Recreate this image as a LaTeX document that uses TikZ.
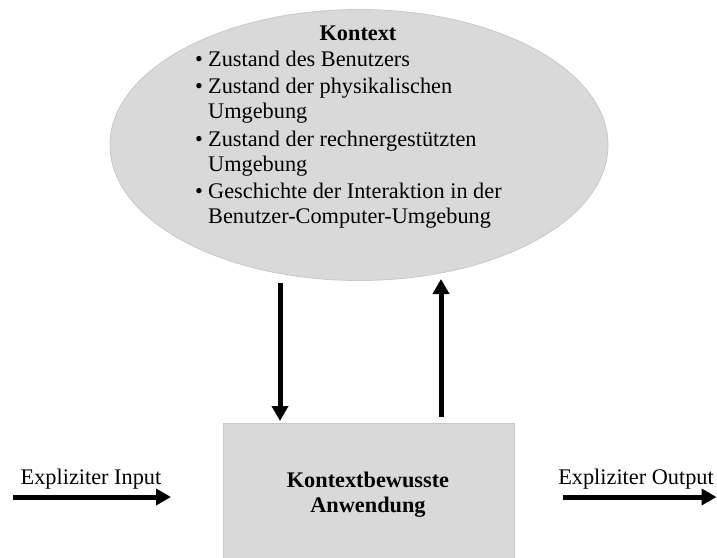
\documentclass[tikz,border=0pt]{standalone}
\usepackage{fontspec}
\setmainfont{Liberation Serif}
\usetikzlibrary{shapes.geometric,arrows.meta}

\definecolor{panelgray}{RGB}{217,217,217}
\definecolor{edgegray}{RGB}{200,200,200}

\tikzset{
  panel/.style={fill=panelgray,draw=edgegray,line width=0.8pt,inner sep=0pt},
  txt/.style={font=\fontsize{22.3}{26}\selectfont,inner sep=0pt,anchor=base west},
  boldtxt/.style={font=\fontsize{22.3}{26}\selectfont\bfseries,inner sep=0pt,anchor=base},
  plaintxt/.style={font=\fontsize{22.3}{26}\selectfont,inner sep=0pt,anchor=base},
  flow/.style={line width=5pt,-{Triangle[length=15pt,width=16pt]}}
}
\newcommand{\bul}{\makebox[13pt][l]{•}}

\begin{document}
\begin{tikzpicture}[x=1pt,y=-1pt]
\useasboundingbox (0,0) rectangle (717,557);

% context ellipse with its list
\node[panel,ellipse,minimum width=498pt,minimum height=271pt] (ctx) at (359,145) {};
\node[boldtxt] (title) at (358,40) {Kontext};
\node[txt] (l1) at (195,66)  {\bul Zustand des Benutzers};
\node[txt] (l2) at (195,93)  {\bul Zustand der physikalischen};
\node[txt] (l3) at (208,118) {Umgebung};
\node[txt] (l4) at (195,146) {\bul Zustand der rechnergestützten};
\node[txt] (l5) at (208,171) {Umgebung};
\node[txt] (l6) at (195,198) {\bul Geschichte der Interaktion in der};
\node[txt] (l7) at (208,223) {Benutzer-Computer-Umgebung};

% application box (runs off the lower edge)
\node[panel,rectangle,minimum width=291pt,minimum height=145pt] (app) at (368.5,495.5) {};
\node[boldtxt] (appA) at (368,487) {Kontextbewusste};
\node[boldtxt] (appB) at (368,512) {Anwendung};

% arrow end points
\coordinate (downS) at (280,283);
\coordinate (downE) at (280,421);
\coordinate (upS)   at (441,417);
\coordinate (upE)   at (441,279);
\coordinate (inS)   at (13,497);
\coordinate (inE)   at (171,497);
\coordinate (outS)  at (563,497);
\coordinate (outE)  at (716.5,497);

\draw[flow] (downS) -- (downE);
\draw[flow] (upS) -- (upE);
\draw[flow] (inS) -- (inE);
\draw[flow] (outS) -- (outE);

% input / output labels
\node[plaintxt] (inlabel)  at (91,484)  {Expliziter Input};
\node[plaintxt] (outlabel) at (636,484) {Expliziter Output};
\end{tikzpicture}
\end{document}
